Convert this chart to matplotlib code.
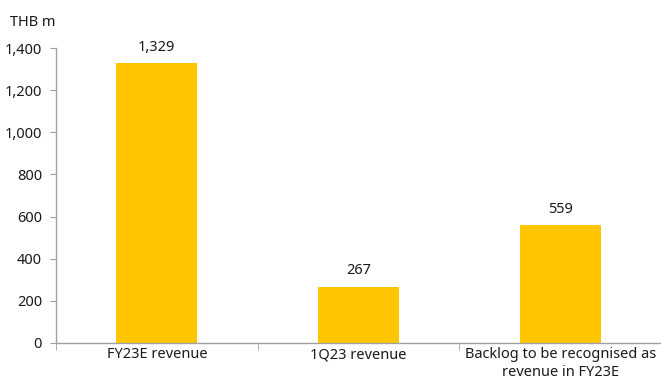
import matplotlib.pyplot as plt
from matplotlib.ticker import FuncFormatter, FixedLocator

categories = ["FY23E revenue", "1Q23 revenue", "Backlog to be recognised as\nrevenue in FY23E"]
values = [1329, 267, 559]

plt.rcParams['font.family'] = ['Noto Sans', 'DejaVu Sans']
plt.rcParams['font.size'] = 10.5

fig = plt.figure(figsize=(6.61, 3.79), dpi=100)
ax = fig.add_axes([56 / 661, 36 / 379, 605 / 661, 295 / 379])

x = range(len(categories))
bars = ax.bar(x, values, width=0.4, color="#FFC600", zorder=2)

for b, v in zip(bars, values):
    ax.text(b.get_x() + b.get_width() / 2, v + 40, f"{v:,}",
            ha="center", va="bottom", color="#1a1a1a")

ax.set_xlim(-0.5, len(categories) - 0.5)
ax.set_ylim(0, 1400)
ax.set_yticks(range(0, 1401, 200))
ax.yaxis.set_major_formatter(FuncFormatter(lambda v, p: f"{int(v):,}"))

# labels at bar centres, tick marks on category boundaries
ax.set_xticks(list(x))
ax.set_xticklabels(categories, color="#1a1a1a")
for t in ax.get_xticklabels():
    t.set_linespacing(1.25)
ax.tick_params(axis="x", which="major", length=0, pad=3)
ax.xaxis.set_minor_locator(FixedLocator([-0.5, 0.5, 1.5, 2.5]))
ax.tick_params(axis="x", which="minor", length=5, color="#a0a0a0", direction="out")
ax.tick_params(axis="y", length=4, color="#a0a0a0", labelcolor="#1a1a1a", pad=6)

for s in ["top", "right"]:
    ax.spines[s].set_visible(False)
for s in ["left", "bottom"]:
    ax.spines[s].set_color("#a0a0a0")
    ax.spines[s].set_linewidth(1.0)

fig.text(10 / 661, 1 - 22 / 379, "THB m", ha="left", va="center", color="#1a1a1a")

fig.savefig("out.png", dpi=100)
